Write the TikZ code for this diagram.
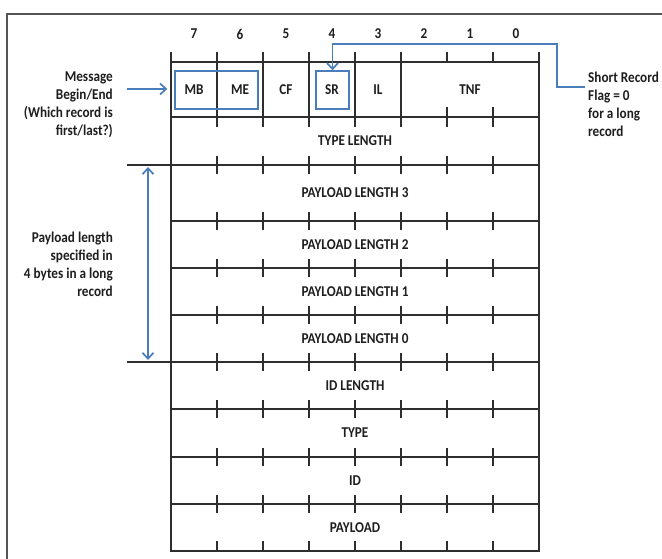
\documentclass[tikz,border=0pt]{standalone}
\usepackage{fontspec}
\setmainfont{Carlito}[FakeStretch=0.88]
\usetikzlibrary{arrows.meta}
\definecolor{ink}{HTML}{1E1E1E}
\definecolor{rulecol}{HTML}{2E2E2E}
\definecolor{framecol}{HTML}{555555}
\definecolor{nfcblue}{HTML}{4A7EBB}

\begin{document}
\begin{tikzpicture}[x=1pt,y=-1pt,
  lbl/.style={font=\fontsize{15}{18}\selectfont\bfseries, text=ink, inner sep=0pt},
  sidelbl/.style={lbl, align=right},
  hrule/.style={draw=rulecol, line width=1.9pt},
  vrule/.style={draw=rulecol, line width=1.4pt},
  flagbox/.style={draw=nfcblue, line width=1.4pt, inner sep=0pt, minimum height=38pt},
  callout/.style={draw=nfcblue, line width=1.7pt, -{Straight Barb[length=6pt,width=11pt]}},
  span/.style={draw=nfcblue, line width=1.7pt, {Straight Barb[length=6pt,width=11pt]}-{Straight Barb[length=6pt,width=11pt]}}
]
\useasboundingbox (0,0) rectangle (662,559);
\fill[white] (0,0) rectangle (662,559);

% outer frame (runs past the page on the right and bottom)
\draw[framecol, line width=1.2pt] (7,560) -- (7,14) -- (663,14);

% bit numbers above the columns
\foreach \b [count=\i from 0] in {7,6,5,4,3,2,1,0}
  \node[lbl] (bit\b) at (194+46*\i, 34) {\b};

% horizontal rules of the record layout
\draw[hrule] (171,62) -- (539,62);
\draw[hrule] (171,117) -- (539,117);
\draw[hrule] (127,165) -- (539,165);
\foreach \y in {221,268,315} \draw[hrule] (171,\y) -- (539,\y);
\draw[hrule] (127,362) -- (539,362);
\foreach \y in {409,457,504,551} \draw[hrule] (171,\y) -- (539,\y);

% outer sides of the layout
\draw[vrule] (171,52) -- (171,552);
\draw[vrule] (539,52) -- (539,552);

% header row: separators between the flag fields
\foreach \i in {1,...,5} \draw[vrule] (171+46*\i,52) -- (171+46*\i,127);
\foreach \i in {6,7} {
  \draw[vrule] (171+46*\i,52) -- (171+46*\i,62);
  \draw[vrule] (171+46*\i,107) -- (171+46*\i,127);
}

% bit ticks on the byte rows
\foreach \y in {165,221,268,315,362,409,457,504}
  \foreach \i in {1,...,7}
    \draw[vrule] (171+46*\i,\y-9) -- (171+46*\i,\y+9);
\foreach \i in {1,...,7}
  \draw[vrule] (171+46*\i,541) -- (171+46*\i,551);

% header fields
\node[lbl] (mb)  at (194,89.5) {MB};
\node[lbl] (me)  at (240,89.5) {ME};
\node[lbl] (cf)  at (286,89.5) {CF};
\node[lbl] (srt) at (332,89.5) {SR};
\node[lbl] (il)  at (378,89.5) {IL};
\node[lbl] (tnf) at (470,89.5) {TNF};

% byte rows
\node[lbl] (typelen) at (355,141)   {TYPE LENGTH};
\node[lbl] (pl3)     at (355,193)   {PAYLOAD LENGTH 3};
\node[lbl] (pl2)     at (355,244.5) {PAYLOAD LENGTH 2};
\node[lbl] (pl1)     at (355,291.5) {PAYLOAD LENGTH 1};
\node[lbl] (pl0)     at (355,338.5) {PAYLOAD LENGTH 0};
\node[lbl] (idlen)   at (355,385.5) {ID LENGTH};
\node[lbl] (type)    at (355,433)   {TYPE};
\node[lbl] (id)      at (355,480.5) {ID};
\node[lbl] (payload) at (355,527.5) {PAYLOAD};

% highlighted flag groups
\node[flagbox, minimum width=83pt] (mbme) at (216.5,90) {};
\node[flagbox, minimum width=33pt] (srbox) at (332.5,90) {};

% side annotations
\node[sidelbl, anchor=east] (msg) at (113,104.5)
  {Message\\Begin/End\\(Which record is\\first/last?)};
\node[sidelbl, anchor=east] (pllbl) at (113,264)
  {Payload length\\specified in\\4 bytes in a long\\record};
\node[lbl, align=left, anchor=west] (srlbl) at (588,104.5)
  {Short Record\\Flag = 0\\for a long\\record};

% callout arrows
\coordinate (msgtail) at (127,89);
\draw[callout, shorten >=7pt] (msgtail) -- (mbme.west |- msgtail);

\coordinate (srtail) at (585,87);
\coordinate (srbend) at (557,44);
\draw[callout] (srtail) -| (srbend) -| (srbox.north);

\coordinate (pltop) at (148,167);
\coordinate (plbot) at (148,360);
\draw[span] (pltop) -- (plbot);
\end{tikzpicture}
\end{document}
